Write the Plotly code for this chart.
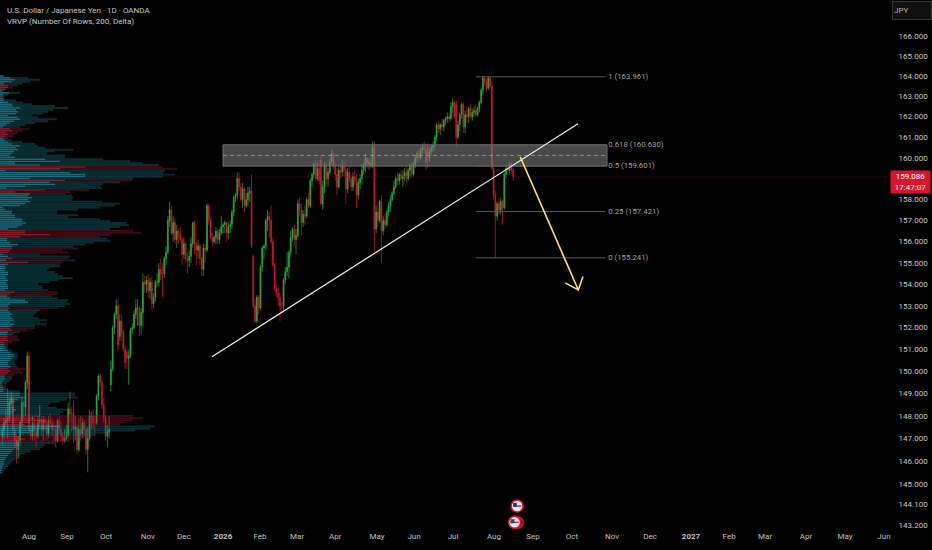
import numpy as np
import plotly.graph_objects as go

# daily candles, first bar is 2025-07-11
opens = [
    147.1,147.4,147.7,147.8,147.9,148.6,148.8,147.4,146.9,146.5,
    146.9,147.7,148.6,148.4,149.5,150.7,147.4,147.1,147.7,147.4,
    147.1,147.7,147.8,147.4,147.8,147.7,147.2,147.8,147.7,147.4,
    147.4,146.9,147.8,147.4,147.1,146.9,147.0,147.1,148.3,148.1,
    148.1,147.4,147.5,146.5,147.4,147.2,147.7,147.4,146.5,147.0,
    148.0,148.0,147.7,147.7,148.9,149.8,149.5,148.5,147.9,147.1,
    147.3,149.4,150.1,152.0,152.6,153.0,151.6,152.3,151.8,151.0,
    150.9,150.6,150.7,151.9,152.0,152.6,152.9,152.9,152.1,152.7,
    154.1,154.0,154.2,153.7,154.1,153.1,153.4,154.1,154.1,154.7,
    154.5,154.5,155.2,155.5,157.0,157.5,156.4,156.9,156.1,156.5,
    156.3,156.1,155.4,155.9,155.2,155.1,155.3,155.9,156.9,155.9,
    155.6,155.8,155.2,154.7,155.7,155.6,157.7,157.0,156.2,156.0,
    156.2,156.5,156.1,156.4,156.7,156.8,156.9,156.4,156.7,156.8,
    157.4,158.1,158.2,159.0,158.6,158.0,158.5,157.7,158.0,158.3,
    158.4,155.3,153.0,152.3,153.4,152.9,154.8,155.7,155.8,157.0,
    157.2,157.0,156.0,154.9,153.8,153.6,153.4,153.0,153.0,154.2,
    154.6,154.8,155.5,156.2,156.6,156.1,156.3,157.8,157.5,156.9,
    157.3,157.2,158.0,157.7,158.9,159.2,159.7,159.0,159.5,159.9,
    157.8,158.6,159.6,159.0,159.3,159.8,160.2,159.6,159.2,158.6,
    159.4,159.3,159.6,159.4,158.5,159.3,159.0,158.6,159.1,158.9,
    158.2,158.8,159.0,159.4,159.6,160.0,159.7,159.8,159.6,160.5,
    156.6,157.4,157.0,157.9,156.5,157.0,156.8,157.4,157.7,158.0,
    158.3,158.6,159.0,158.9,159.2,159.0,159.1,159.3,159.0,159.4,
    159.6,159.2,159.7,160.0,160.2,160.0,160.4,160.5,160.4,160.5,
    160.0,160.3,160.5,160.6,161.0,161.6,161.4,161.6,161.5,161.8,
    161.9,162.0,161.9,162.5,162.7,162.6,161.0,161.6,162.1,162.6,
    161.5,162.1,162.0,162.4,162.0,162.2,162.3,162.1,162.4,162.7,
    163.3,163.9,163.7,163.4,163.9,163.5,159.5,158.2,157.2,157.8,
    157.5,157.9,157.6,159.2,159.5,159.4,159.7,159.4,
]
highs = [
    147.6,147.9,148.3,149.2,148.8,149.1,148.9,147.6,147.2,147.1,
    147.8,148.8,148.7,149.6,150.9,150.9,147.6,148.0,147.8,147.7,
    148.0,148.5,148.0,148.0,148.0,147.9,148.0,148.1,147.9,147.8,
    147.6,147.9,148.0,147.7,147.3,147.4,147.6,148.6,149.1,148.4,
    148.7,148.0,147.6,147.9,148.0,147.9,147.8,147.6,147.5,148.3,
    148.2,148.3,148.0,149.0,149.9,149.9,149.6,148.8,148.0,147.6,
    148.0,150.5,152.1,152.7,153.3,153.3,152.6,152.6,151.9,151.2,
    151.0,151.0,152.0,152.2,152.8,153.3,153.3,153.0,152.9,154.5,
    154.4,154.4,154.5,154.3,154.4,153.6,154.2,154.5,155.0,155.2,
    155.0,155.3,155.8,157.2,157.9,157.7,157.2,157.1,156.8,156.6,
    156.7,156.2,156.2,156.0,155.5,155.6,156.2,156.9,157.0,156.0,
    156.1,155.9,155.3,155.9,155.9,157.8,157.8,157.1,156.4,156.3,
    156.7,156.6,156.6,157.2,156.9,157.0,156.9,156.9,157.0,157.5,
    158.2,158.3,159.3,159.3,158.8,158.8,158.6,158.3,158.6,158.6,
    159.2,155.4,153.3,153.5,153.5,154.9,155.8,155.9,157.1,157.5,
    157.4,157.7,156.2,155.0,154.0,153.9,153.6,153.2,154.3,154.8,
    155.5,155.6,156.5,156.7,156.8,156.6,158.0,158.1,157.8,157.5,
    157.7,158.1,158.3,159.0,159.3,159.8,159.9,159.8,159.9,160.1,
    158.9,159.8,159.8,159.5,160.0,160.4,160.3,159.8,159.5,159.6,
    159.7,159.9,159.8,159.6,159.5,159.6,159.2,159.3,159.4,159.2,
    159.0,159.2,159.7,159.8,160.2,160.0,160.0,160.0,160.8,160.8,
    157.7,157.8,158.0,158.2,157.2,157.3,157.5,157.9,158.2,158.4,
    158.9,159.1,159.3,159.3,159.4,159.4,159.5,159.6,159.5,159.7,
    159.8,159.8,160.1,160.3,160.4,160.5,160.7,160.8,160.7,160.7,
    160.5,160.6,160.8,161.1,161.7,161.8,161.7,161.9,161.9,162.0,
    162.2,162.2,162.7,162.9,162.8,162.8,161.8,162.2,162.7,162.7,
    162.3,162.5,162.5,162.6,162.4,162.5,162.6,162.5,162.8,163.4,
    164.0,164.0,163.9,164.0,164.0,163.7,159.7,158.4,157.9,158.0,
    158.1,158.0,159.3,159.6,159.7,159.8,159.8,159.5,
]
lows = [
    146.7,147.0,147.5,147.0,147.7,148.4,147.2,146.6,145.9,146.1,
    146.8,147.5,147.9,148.0,149.2,147.3,146.9,146.9,146.9,146.6,
    147.0,147.5,147.1,146.9,147.3,146.9,147.0,147.5,147.1,146.9,
    146.6,146.8,147.2,146.9,146.7,146.8,146.9,147.0,147.7,147.3,
    146.8,146.9,146.3,146.4,146.9,147.0,147.1,146.3,145.5,146.9,
    147.4,147.4,147.1,147.6,148.7,149.3,148.3,147.7,146.9,146.6,
    147.0,149.1,150.0,151.7,152.4,151.0,151.4,151.4,150.9,150.1,
    150.1,149.4,150.6,151.7,151.9,152.4,152.1,151.6,151.7,152.0,
    153.6,153.6,153.4,153.3,152.8,152.9,153.2,153.9,153.9,154.2,
    153.4,154.3,154.9,155.4,156.7,156.3,156.0,155.9,155.7,155.9,
    156.0,154.9,155.2,155.0,154.5,154.8,155.0,155.7,155.4,154.9,
    155.2,154.9,154.4,154.4,155.0,155.5,156.8,156.1,155.8,155.9,
    155.9,155.9,155.9,156.3,156.4,156.4,156.0,156.1,156.4,156.6,
    157.2,157.9,158.0,158.4,157.9,157.6,157.4,157.6,157.7,157.9,
    155.7,152.9,152.2,152.2,152.6,152.8,154.6,155.2,155.6,156.5,
    156.2,155.9,154.8,153.7,153.4,153.0,152.3,152.7,152.8,154.0,
    154.4,154.3,155.3,156.0,155.8,155.4,156.2,157.2,156.3,156.7,
    156.8,157.1,157.6,157.6,158.6,159.0,158.9,158.9,158.7,157.7,
    157.5,158.3,158.7,158.6,159.2,159.7,159.4,158.9,158.2,158.5,
    159.0,159.1,159.1,157.8,158.3,158.8,158.4,158.4,158.7,157.6,
    158.0,158.5,158.7,159.2,159.3,159.5,159.4,159.5,159.5,155.5,
    156.4,156.7,156.9,155.0,156.3,156.6,156.7,157.2,157.4,157.9,
    158.2,158.5,158.7,158.7,158.9,158.6,158.9,158.8,158.9,159.1,
    159.0,159.1,159.5,159.8,159.8,159.9,160.2,160.2,159.4,159.5,
    159.8,160.1,160.3,160.4,160.8,161.2,161.1,161.3,161.3,161.6,
    161.7,161.7,161.8,162.2,161.9,160.5,160.9,161.3,161.9,161.2,
    161.2,161.7,161.7,161.9,161.8,162.0,162.0,162.0,162.2,162.6,
    163.1,163.5,163.2,163.3,163.4,159.4,158.0,155.24,157.0,157.3,
    157.3,156.8,157.5,159.0,159.2,159.2,159.3,158.9,
]
closes = [
    147.4,147.7,147.8,147.9,148.6,148.8,147.4,146.9,146.5,146.9,
    147.7,148.6,148.4,149.5,150.7,147.4,147.1,147.7,147.4,147.1,
    147.7,147.8,147.4,147.8,147.7,147.2,147.8,147.7,147.4,147.4,
    146.9,147.8,147.4,147.1,146.9,147.0,147.1,148.3,148.1,148.1,
    147.4,147.5,146.5,147.4,147.2,147.7,147.4,146.5,147.0,148.0,
    148.0,147.7,147.7,148.9,149.8,149.5,148.5,147.9,147.1,147.3,
    147.4,150.1,152.0,152.6,153.0,151.2,152.3,151.8,151.0,150.4,
    150.6,150.7,151.9,152.0,152.6,152.9,152.9,152.1,152.7,154.1,
    154.0,154.2,153.7,154.1,153.1,153.4,154.1,154.1,154.7,154.5,
    154.5,155.2,155.5,157.0,157.5,156.4,156.9,156.1,156.5,156.3,
    156.1,155.4,155.9,155.2,155.1,155.3,155.9,156.9,155.9,155.6,
    155.8,155.2,154.7,155.7,155.6,157.7,157.0,156.2,156.0,156.2,
    156.5,156.1,156.4,156.7,156.8,156.9,156.4,156.7,156.8,157.4,
    158.1,158.2,159.0,158.6,158.0,158.5,157.7,158.0,158.3,158.4,
    155.8,153.0,152.3,153.4,152.9,154.8,155.7,155.8,157.0,157.2,
    157.0,156.0,154.9,153.8,153.6,153.4,153.0,153.0,154.2,154.6,
    154.8,155.5,156.2,156.6,156.1,156.3,157.8,157.5,156.9,157.3,
    157.2,158.0,157.7,158.9,159.2,159.7,159.0,159.5,158.9,157.8,
    158.6,159.6,159.0,159.3,159.8,160.2,159.6,159.2,158.6,159.4,
    159.3,159.6,159.4,158.5,159.3,159.0,158.6,159.1,158.9,158.2,
    158.8,159.0,159.4,159.6,160.0,159.7,159.8,159.6,160.5,156.6,
    157.4,157.0,157.9,156.5,157.0,156.8,157.4,157.7,158.0,158.3,
    158.6,159.0,158.9,159.2,159.0,159.1,159.3,159.0,159.4,159.6,
    159.2,159.7,160.0,160.2,160.0,160.4,160.5,160.4,159.8,160.0,
    160.3,160.5,160.6,161.0,161.6,161.4,161.6,161.5,161.8,161.9,
    162.0,161.9,162.5,162.7,162.0,161.0,161.6,162.1,162.6,161.5,
    162.1,162.0,162.4,162.0,162.2,162.3,162.1,162.4,162.7,163.3,
    163.9,163.7,163.4,163.9,163.5,159.5,158.2,157.2,157.8,157.5,
    157.9,157.6,159.2,159.5,159.4,159.7,159.4,159.086,
]

# volume profile, one entry per row from the top row down
profile_top = 164.0
profile_step = 0.0925
row_total = [
    4,28,40,30,22,18,13,7,4,20,
    8,5,5,16,23,32,55,68,53,48,
    43,32,38,57,48,35,25,20,30,23,
    18,15,13,8,12,22,35,38,45,73,
    55,47,65,65,103,130,143,159,163,177,
    165,163,175,163,133,132,120,103,100,
    102,89,70,65,72,73,72,102,120,115,
    100,78,57,57,78,68,100,110,126,129,
    120,110,133,141,110,100,107,110,93,85,
    73,78,63,68,40,70,68,75,63,60,
    60,50,47,55,58,63,73,58,50,38,
    42,43,48,58,57,52,58,68,67,
    70,65,58,40,37,35,33,38,47,40,
    47,35,35,27,20,13,18,18,20,12,
    8,8,8,12,13,18,18,17,15,14,
    15,17,25,20,23,15,12,12,10,7,
    6,6,8,20,75,
    75,78,67,60,50,48,57,70,63,60,
    133,143,132,125,120,155,150,135,110,95,
    85,75,70,55,45,43,40,30,25,20,
    18,15,12,10,8,6,4,3,
]
row_delta = [
    3,10,15,12,4,-8,-8,-5,2,9,
    3,-3,3,4,8,12,13,20,16,18,
    16,8,18,20,14,10,6,3,-10,-12,
    -6,-8,-5,3,5,8,12,20,16,18,
    14,12,10,15,45,60,15,40,-85,-60,
    5,70,85,85,30,-65,50,55,25,
    6,-45,-15,30,28,32,28,30,25,20,
    3,5,12,12,15,15,22,22,26,22,
    18,8,-25,-25,-50,-20,7,7,10,18,
    12,-12,-10,-8,3,8,-12,6,-28,8,
    5,6,5,8,8,5,6,8,6,7,
    8,8,5,-15,-10,7,10,25,28,
    10,8,-10,8,10,12,10,12,14,10,
    14,12,-10,-12,8,7,-8,-7,-8,-4,
    4,5,6,8,10,14,14,12,10,8,
    8,10,-8,-10,-8,-5,4,5,3,2,
    -2,3,4,3,20,
    20,25,18,15,12,10,14,16,14,12,
    -40,-35,-45,-30,-25,60,50,35,30,15,
    -20,-25,-20,18,20,16,14,12,10,8,
    6,5,4,4,3,2,2,1,
]

# axis labels, month ticks are given in bar numbers
month_labels = ['Aug','Sep','Oct','Nov','Dec','<b>2026</b>','Feb','Mar','Apr','May','Jun','Jul',
                'Aug','Sep','Oct','Nov','Dec','<b>2027</b>','Feb','Mar','Apr','May','Jun']
month_bars = [15,36.3,58.3,81.8,102,124,144.8,165.6,187,210.5,231.3,253.2,
              276.2,298.1,320,342.5,363.9,386.9,408.3,428.5,451.5,473.4,495.3]
price_ticks = [166,165,164,163,162,161,160,158,157,156,155,154,153,152,151,150,149,148,147,146,145,144.1,143.2]

# drawings, in bar number and price
last_price = 159.086
fib_levels = [163.961, 160.630, 159.601, 157.421, 155.241]
fib_labels = ['1 (163.961)', '0.618 (160.630)', '0.5 (159.601)', '0.25 (157.421)', '0 (155.241)']
fib_x = [266, 338.6]
zone_x = [124, 339.7]
zone_low = 159.601
zone_high = 160.630
trend_x = [117.8, 323.4]
trend_y = [150.67, 161.65]
arrow_x = [291.0, 323.6]
arrow_y = [160.04, 153.74]
arrow_head_x = [316.2, 323.6, 326.2]
arrow_head_y = [154.07, 153.74, 154.37]
event_x = [289.2, 287.8]
event_y = [144.03, 143.32]

bars = list(range(len(closes)))
row_prices = [profile_top - profile_step * i for i in range(len(row_total))]


def row_segments(keep_negative):
    """Line segments for the bright and the dim part of each profile row"""
    bx, by, dx, dy = [], [], [], []
    for price, total, delta in zip(row_prices, row_total, row_delta):
        if (delta < 0) != keep_negative:
            continue
        bx += [0, abs(delta), None]
        by += [price, price, None]
        dx += [abs(delta), total, None]
        dy += [price, price, None]
    return bx, by, dx, dy


fig = go.Figure()

fig.add_trace(go.Candlestick(
    x=bars, open=opens, high=highs, low=lows, close=closes,
    increasing=dict(line=dict(color='#23b53c', width=0.7), fillcolor='#23c040'),
    decreasing=dict(line=dict(color='#d9142f', width=0.7), fillcolor='#e8162f'),
    whiskerwidth=0, showlegend=False, hoverinfo='skip'))

# zone with dashed middle
fig.add_trace(go.Scatter(
    x=[zone_x[0], zone_x[1], zone_x[1], zone_x[0], zone_x[0]],
    y=[zone_low, zone_low, zone_high, zone_high, zone_low],
    mode='lines', fill='toself', fillcolor='rgba(125,125,125,0.58)',
    line=dict(color='#6e6e6e', width=1), showlegend=False, hoverinfo='skip'))
fig.add_trace(go.Scatter(
    x=zone_x, y=[(zone_low + zone_high) / 2] * 2, mode='lines',
    line=dict(color='#a8a8a8', width=0.7, dash='4px 3px'), showlegend=False, hoverinfo='skip'))

# fib levels
for level, label in zip(fib_levels, fib_labels):
    fig.add_trace(go.Scatter(x=fib_x, y=[level, level], mode='lines',
                             line=dict(color='#5a5a5a', width=1), showlegend=False, hoverinfo='skip'))
    fig.add_trace(go.Scatter(x=[fib_x[1] + 1.8], y=[level], mode='text', text=[label],
                             textposition='middle right',
                             textfont=dict(family='Roboto', size=7.8, color='#a0a0a0'),
                             showlegend=False, hoverinfo='skip'))

# last price line
fig.add_trace(go.Scatter(x=[-2, 500], y=[last_price, last_price], mode='lines',
                         line=dict(color='#6a1222', width=0.8, dash='1px 2px'),
                         showlegend=False, hoverinfo='skip'))

fig.add_trace(go.Scatter(x=trend_x, y=trend_y, mode='lines', line=dict(color='#f2f2f2', width=1.2),
                         showlegend=False, hoverinfo='skip'))
fig.add_trace(go.Scatter(x=arrow_x, y=arrow_y, mode='lines', line=dict(color='#ffe85c', width=1.6),
                         showlegend=False, hoverinfo='skip'))
fig.add_trace(go.Scatter(x=arrow_head_x, y=arrow_head_y, mode='lines', line=dict(color='#ffe85c', width=1.6),
                         showlegend=False, hoverinfo='skip'))

# event badges
fig.add_trace(go.Scatter(x=[event_x[1] + 1.6, event_x[1] + 0.9], y=[event_y[1]] * 2, mode='markers',
                         marker=dict(size=12, color='#000000', line=dict(color='#c8142f', width=1.3)),
                         showlegend=False, hoverinfo='skip'))
fig.add_trace(go.Scatter(x=event_x, y=event_y, mode='markers',
                         marker=dict(size=12, color='#e6e6e6', line=dict(color='#d4142f', width=1.5)),
                         showlegend=False, hoverinfo='skip'))
fig.add_trace(go.Scatter(x=event_x, y=event_y, mode='markers',
                         marker=dict(size=6, color='#c8283c', symbol='line-ew',
                                     line=dict(color='#c8283c', width=1.5)),
                         showlegend=False, hoverinfo='skip'))
fig.add_trace(go.Scatter(x=[v - 1.2 for v in event_x], y=[v + 0.05 for v in event_y], mode='markers',
                         marker=dict(size=4, color='#1e4a7a', symbol='square'),
                         showlegend=False, hoverinfo='skip'))

# profile sits on its own x axis, one unit is one pixel
up_bx, up_by, up_dx, up_dy = row_segments(False)
dn_bx, dn_by, dn_dx, dn_dy = row_segments(True)
for sx, sy, color, width in [(up_dx, up_dy, 'rgba(22,125,135,0.36)', 1.9),
                             (dn_dx, dn_dy, 'rgba(150,20,50,0.42)', 1.9),
                             (up_bx, up_by, 'rgba(30,150,170,0.72)', 1.6),
                             (dn_bx, dn_by, 'rgba(200,45,70,0.66)', 1.6)]:
    fig.add_trace(go.Scatter(x=sx, y=sy, xaxis='x2', mode='lines',
                             line=dict(color=color, width=width), connectgaps=False,
                             showlegend=False, hoverinfo='skip'))

fig.update_layout(
    width=932, height=550,
    margin=dict(l=0, r=40, t=0, b=20),
    paper_bgcolor='#000000', plot_bgcolor='#000000',
    font=dict(family='Roboto', color='#c8c8c8', size=8),
    hovermode=False,
    xaxis=dict(range=[-1.29, 499.8], tickvals=month_bars, ticktext=month_labels,
               showgrid=False, zeroline=False, showline=False, ticks='',
               tickfont=dict(size=8, color='#c0c0c0'), rangeslider=dict(visible=False)),
    xaxis2=dict(range=[0, 892], overlaying='x', visible=False),
    yaxis=dict(type='log', side='right', range=[np.log10(142.99), np.log10(167.81)],
               tickvals=price_ticks, ticktext=[f'{v:.3f}' for v in price_ticks],
               showgrid=False, zeroline=False, showline=False, ticks='outside', ticklen=4,
               tickcolor='#000000', tickfont=dict(size=8, color='#c8c8c8')),
    annotations=[
        dict(text='U.S. Dollar / Japanese Yen · 1D · OANDA', xref='paper', yref='paper', x=5 / 892, y=1 - 11 / 530,
             xanchor='left', yanchor='middle', showarrow=False, font=dict(size=8, color='#c8c8c8')),
        dict(text='VRVP (Number Of Rows, 200, Delta)', xref='paper', yref='paper', x=5 / 892, y=1 - 22 / 530,
             xanchor='left', yanchor='middle', showarrow=False, font=dict(size=8, color='#c8c8c8')),
        dict(text='159.086<br>17:47:07', xref='paper', yref='paper', x=910 / 892, y=1 - 181.5 / 530,
             xanchor='center', yanchor='middle', showarrow=False, width=37, height=20, bgcolor='#d8152f',
             font=dict(size=8, color='#ffffff')),
        dict(text='JPY', xref='paper', yref='paper', x=912 / 892, y=1 - 11 / 530,
             xanchor='center', yanchor='middle', showarrow=False, width=36, height=15, align='left',
             bgcolor='#111111', bordercolor='#333333', borderwidth=1, font=dict(size=8, color='#b0b0b0')),
    ],
)

# the page has a default body margin that would push the chart off the window
fig.write_html("out.html", config={'displayModeBar': False},
               post_script="document.body.style.margin='0';document.body.style.background='#000';")
